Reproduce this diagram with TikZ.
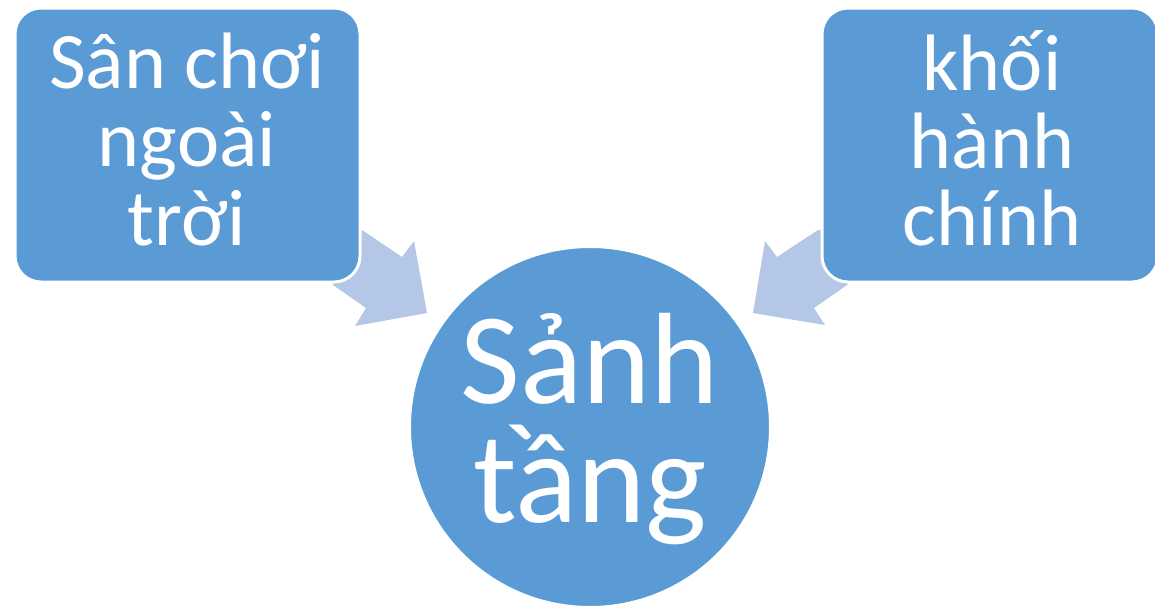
\documentclass[tikz,border=0pt]{standalone}
\usepackage{fontspec}
\setmainfont{Carlito}
\definecolor{boxblue}{HTML}{5B9BD5}
\definecolor{arrowblue}{HTML}{B4C7E7}
\begin{document}
\begin{tikzpicture}[x=1pt,y=-1pt,
  box/.style={rectangle, rounded corners=26pt, fill=boxblue, draw=white, line width=3pt,
    minimum width=#1, minimum height=274pt, inner sep=0pt},
  boxtext/.style={text=white, align=center, font=\fontsize{80}{78}\selectfont, inner sep=0pt},
  blockarrow/.style={fill=arrowblue, draw=none}]
\useasboundingbox (0,0) rectangle (1155,608);
% arrows (under boxes)
\fill[arrowblue] (362,230) -- (402,257) -- (414,241) -- (427,313) -- (355,326) -- (366,308) -- (333,285) -- (300,230) -- cycle;
\fill[arrowblue] (818,230) -- (777,257) -- (765,241) -- (753,313) -- (825,325) -- (814,308) -- (847,285) -- (880,230) -- cycle;
% boxes
\node[box=345pt] (left) at (187.5,145) {};
\node[box=336pt] (right) at (990,145) {};
\node[boxtext, anchor=base] (lt1) at (187,88) {Sân chơi};
\node[boxtext, anchor=base] (lt2) at (187,166) {ngoài};
\node[boxtext, anchor=base] (lt3) at (187,245) {trời};
\node[boxtext, anchor=base] (rt1) at (992,90) {khối};
\node[boxtext, anchor=base] (rt2) at (992,168) {hành};
\node[boxtext, anchor=base] (rt3) at (992,245) {chính};
% circle
\node[circle, fill=boxblue, draw=white, line width=3pt, minimum size=361pt, inner sep=0pt] (hall) at (590,427) {};
\node[text=white, font=\fontsize{130}{119}\selectfont, inner sep=0pt, anchor=base] (h1) at (590,403) {Sảnh};
\node[text=white, font=\fontsize{130}{119}\selectfont, inner sep=0pt, anchor=base] (h2) at (590,522) {tầng};
\end{tikzpicture}
\end{document}
